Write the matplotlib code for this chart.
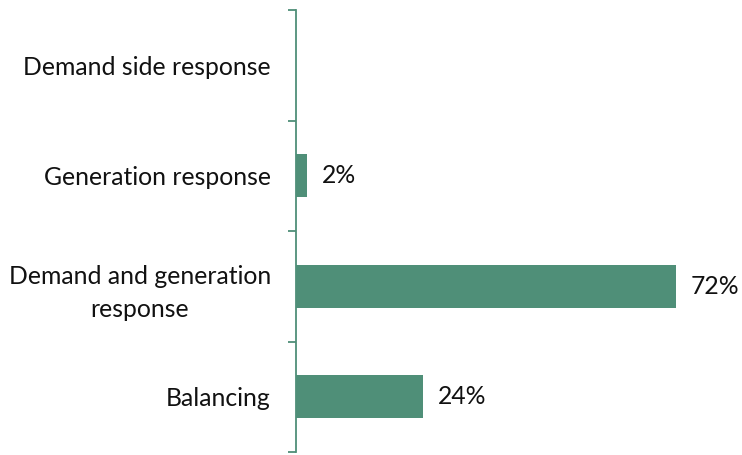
import matplotlib
matplotlib.use("Agg")
import matplotlib.pyplot as plt
import numpy as np

categories = ["Demand side response", "Generation response",
              "Demand and generation\nresponse", "Balancing"]
values = [0, 2, 72, 24]
value_labels = ["", "2%", "72%", "24%"]

color = "#4F8F78"
text_color = "#111111"
plt.rcParams['font.family'] = ['Lato', 'DejaVu Sans']
fs = 17.8

fig = plt.figure(figsize=(7.42, 4.55), dpi=100)
ax = fig.add_axes([296/742, 1-452/455, (718-296)/742, (452-10)/455])

y = np.arange(len(categories))
ax.barh(y, values, height=0.39, color=color)
ax.set_ylim(len(categories)-0.5, -0.5)
ax.set_xlim(0, 80)

for yi, v, lab in zip(y, values, value_labels):
    if lab:
        ax.annotate(lab, (v, yi), xytext=(11, 0), textcoords="offset points",
                    va="center", ha="left", fontsize=fs, color=text_color)

ax.set_yticks(y)
ax.set_yticklabels(categories, fontsize=fs, color=text_color,
                   multialignment="center", linespacing=1.5)
ax.tick_params(axis="y", which="major", length=0, pad=18)
ax.set_yticks(np.arange(-0.5, len(categories), 1), minor=True)
ax.tick_params(axis="y", which="minor", length=6, width=1.3, color=color)
ax.set_xticks([])
for s in ["top", "right", "bottom"]:
    ax.spines[s].set_visible(False)
ax.spines["left"].set_color(color)
ax.spines["left"].set_linewidth(1.3)

fig.savefig("out.png", dpi=100)
